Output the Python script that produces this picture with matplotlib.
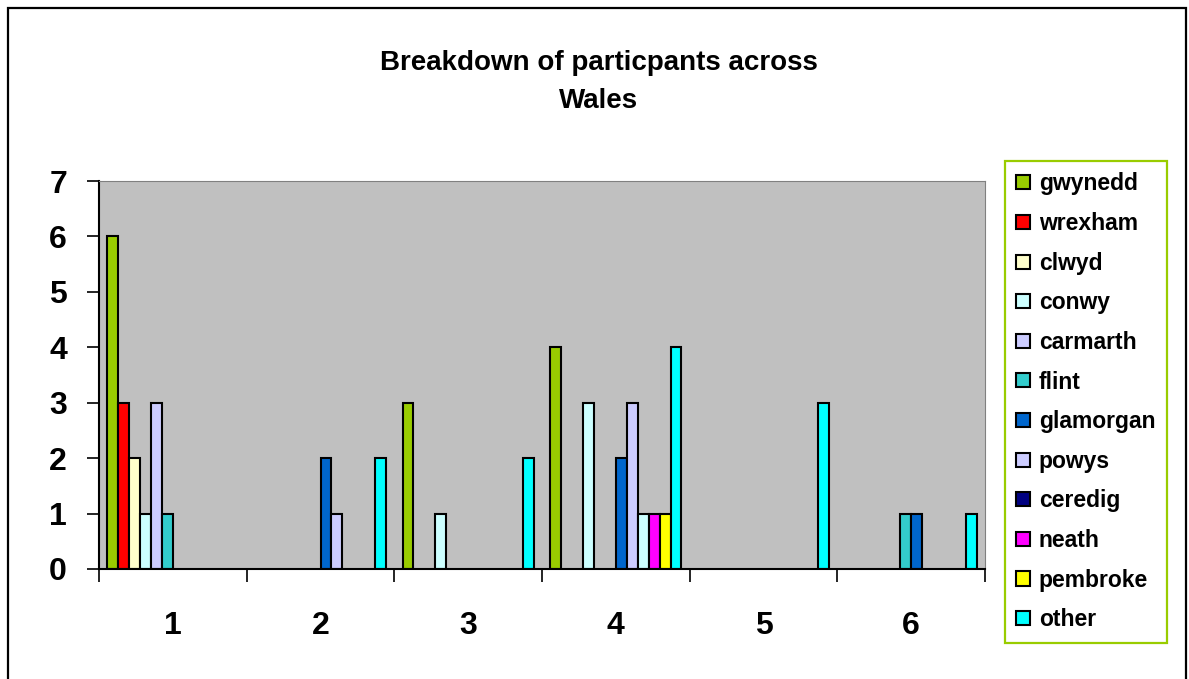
import matplotlib
matplotlib.use('Agg')
import matplotlib.pyplot as plt
import numpy as np
from matplotlib.patches import Rectangle, Patch

plt.rcParams['font.family'] = ['Liberation Sans', 'DejaVu Sans']
plt.rcParams['font.weight'] = 'bold'

# Данные: 6 групп, 12 районов
groups = ['1', '2', '3', '4', '5', '6']
regions = ['gwynedd', 'wrexham', 'clwyd', 'conwy', 'carmarth', 'flint',
           'glamorgan', 'powys', 'ceredig', 'neath', 'pembroke', 'other']

gwynedd = [6, 0, 3, 4, 0, 0]
wrexham = [3, 0, 0, 0, 0, 0]
clwyd = [2, 0, 0, 0, 0, 0]
conwy = [1, 0, 1, 3, 0, 0]
carmarth = [3, 0, 0, 0, 0, 0]
flint = [1, 0, 0, 0, 0, 1]
glamorgan = [0, 2, 0, 2, 0, 1]
powys = [0, 1, 0, 3, 0, 0]
ceredig = [0, 0, 0, 1, 0, 0]
neath = [0, 0, 0, 1, 0, 0]
pembroke = [0, 0, 0, 1, 0, 0]
other = [0, 2, 2, 4, 3, 1]

values = [gwynedd, wrexham, clwyd, conwy, carmarth, flint,
          glamorgan, powys, ceredig, neath, pembroke, other]

colors = ['#99CC00', '#FF0000', '#FFFFCC', '#CCFFFF', '#CCCCFF', '#33CCCC',
          '#0066CC', '#CCCCFF', '#000080', '#FF00FF', '#FFFF00', '#00FFFF']

# столбец ceredig в группе 4 закрашен отдельно
point_colors = {(8, 3): '#CCFFFF'}

fig = plt.figure(figsize=(11.89, 6.79), dpi=100)
ax = fig.add_axes([99 / 1189, 1 - 569 / 679, 886 / 1189, 388 / 679])
ax.set_facecolor('#C0C0C0')

n = len(regions)
w = 1 / (n + 1.5)  # ширина столбца (зазор 150%)
x = np.arange(1, len(groups) + 1)

for i, (name, vals) in enumerate(zip(regions, values)):
    pos = x + (i - (n - 1) / 2) * w
    for j, v in enumerate(vals):
        if v == 0:
            continue
        c = point_colors.get((i, j), colors[i])
        ax.bar(pos[j], v, width=w, color=c, edgecolor='black', linewidth=1.5)

ax.set_xlim(0.5, len(groups) + 0.5)
ax.set_ylim(0, 7)
ax.set_yticks(range(8))
ax.set_xticks(x)
ax.set_xticklabels(groups)
ax.set_xticks(np.arange(0.5, len(groups) + 1), minor=True)

ax.tick_params(axis='y', direction='out', length=9, width=1.2, pad=14,
               labelsize=23)
ax.tick_params(axis='x', which='major', length=0, pad=30, labelsize=23)
ax.tick_params(axis='x', which='minor', direction='out', length=9, width=1.2)
for lab in ax.get_xticklabels() + ax.get_yticklabels():
    lab.set_fontweight('bold')

ax.spines['top'].set_color('#808080')
ax.spines['right'].set_color('#808080')
ax.spines['left'].set_linewidth(1.5)
ax.spines['bottom'].set_linewidth(1.5)

fig.text(599 / 1189, 1 - 82 / 679, 'Breakdown of particpants across\nWales',
         ha='center', va='center', fontsize=20, fontweight='bold',
         linespacing=1.6)

handles = [Patch(facecolor=c, edgecolor='black', linewidth=1.5) for c in colors]
leg = fig.legend(handles, regions, loc='upper left',
                 bbox_to_anchor=(1005 / 1189, 1 - 161 / 679),
                 bbox_transform=fig.transFigure, borderaxespad=0,
                 prop={'weight': 'bold', 'size': 16.5},
                 handlelength=0.57, handleheight=0.57, handletextpad=0.4,
                 labelspacing=0.725, borderpad=0.5, fancybox=False,
                 framealpha=1)
leg.get_frame().set_edgecolor('#99CC00')
leg.get_frame().set_linewidth(1.6)

# рамка всей диаграммы
fig.patches.append(Rectangle((8 / 1189, -0.01), 1178 / 1189, 1 - 8 / 679 + 0.01,
                             transform=fig.transFigure, fill=False,
                             edgecolor='black', linewidth=1.6))

fig.savefig('out.png', dpi=100)
